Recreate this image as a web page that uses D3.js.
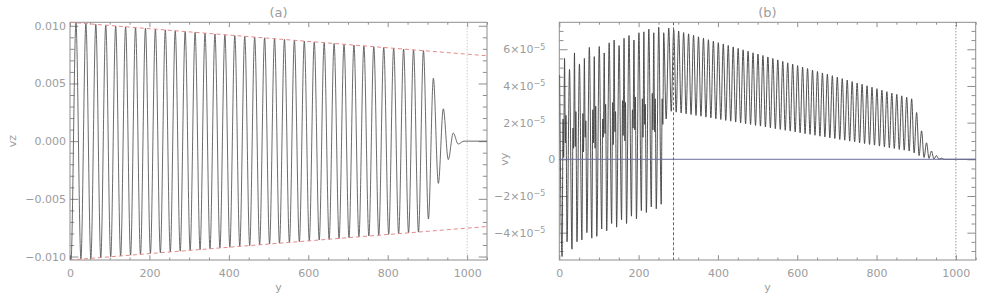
<!DOCTYPE html>
<meta charset="utf-8">
<style>
    body {
        margin: 0;
        background-color: #ffffff;
    }
    text {
        font-family: "DejaVu Sans", sans-serif;
        fill: #9c9c9c;
    }
    .frame {
        fill: none;
        stroke: #8e8e8e;
        stroke-width: 1;
    }
    .tick line {
        stroke: #8e8e8e;
    }
    .sig {
        fill: none;
    }
</style>

<body>
    <svg width="997" height="305"></svg>
    <script src="https://d3js.org/d3.v7.min.js"></script>
    <script>
        // ---- panel (a): vz, crests and troughs ----
        var vzCrestPos = [15, 40, 65, 90, 115, 140, 165, 190, 215, 240,
            265, 290, 315, 340, 365, 390, 415, 440, 465, 490,
            515, 540, 565, 590, 615, 640, 665, 690, 715, 740,
            765, 790, 815, 840, 865, 890, 915, 940, 965];
        var vzCrest = [0.01026, 0.01019, 0.01012, 0.01005, 0.00998, 0.00991, 0.00984, 0.00978, 0.00971, 0.00964,
            0.00957, 0.00950, 0.00943, 0.00936, 0.00929, 0.00922, 0.00915, 0.00908, 0.00902, 0.00895,
            0.00888, 0.00881, 0.00874, 0.00867, 0.00860, 0.00853, 0.00846, 0.00839, 0.00833, 0.00826,
            0.00819, 0.00812, 0.00805, 0.00798, 0.00791, 0.00784, 0.00545, 0.00280, 0.00070];
        var vzTroughPos = [2.5, 27.5, 52.5, 77.5, 102.5, 127.5, 152.5, 177.5, 202.5, 227.5,
            252.5, 277.5, 302.5, 327.5, 352.5, 377.5, 402.5, 427.5, 452.5, 477.5,
            502.5, 527.5, 552.5, 577.5, 602.5, 627.5, 652.5, 677.5, 702.5, 727.5,
            752.5, 777.5, 802.5, 827.5, 852.5, 877.5, 902.5, 927.5, 952.5, 977.5];
        var vzTrough = [-0.01029, -0.01022, -0.01016, -0.01009, -0.01002, -0.00995, -0.00988, -0.00981, -0.00974, -0.00967,
            -0.00960, -0.00953, -0.00946, -0.00940, -0.00933, -0.00926, -0.00919, -0.00912, -0.00905, -0.00898,
            -0.00891, -0.00884, -0.00877, -0.00871, -0.00864, -0.00857, -0.00850, -0.00843, -0.00836, -0.00829,
            -0.00822, -0.00815, -0.00808, -0.00801, -0.00795, -0.00788, -0.00675, -0.00366, -0.00160, -0.00025];
        var vzEndsPos = [0, 992, 1050];
        var vzEnds = [-0.0099, 0, 0];
        // red dashed envelope
        var envPos = [0, 1050];
        var envTop = [0.0103, 0.0074];
        var envBottom = [-0.0103, -0.0074];

        // ---- panel (b): vy, in units of 1e-5 ----
        // left part (behind the front)
        var vyLeftPos = [0.75, 7, 9.5, 11, 13.25, 15.3, 16.8, 19.5, 25.75, 32, 34.5, 36,
            38.25, 40.3, 41.8, 44.5, 50.75, 57, 59.5, 61, 63.25, 65.3, 66.8, 69.5,
            75.75, 82, 84.5, 86, 88.25, 90.3, 91.8, 94.5, 100.75, 107, 109.5, 111,
            113.25, 115.3, 116.8, 119.5, 125.75, 132, 134.5, 136, 138.25, 140.3, 141.8, 144.5,
            150.75, 157, 159.5, 161, 163.25, 165.3, 166.8, 169.5, 175.75, 182, 184.5, 186,
            188.25, 190.3, 191.8, 194.5, 200.75, 207, 209.5, 211, 213.25, 215.3, 216.8, 219.5,
            225.75, 232, 234.5, 236, 238.25, 240.3, 241.8, 244.5, 250.75, 257, 259.5, 261,
            263.25, 269.5];
        var vyLeft = [4.6, -5.3, 2.2, 0.1, 5.5, 0.9, 2.4, -4.5, 4.9, -4.9, 1.7, 0.6,
            5.8, 0.7, 2.6, -4.5, 5.2, -4.4, 2.5, 0.4, 5.5, 1.2, 2.1, -4.0,
            6.1, -4.3, 2.7, 0.9, 5.6, 0.6, 2.9, -4.2, 6.15, -3.8, 2.2, 1.2,
            5.8, 1.4, 3.0, -3.9, 6.35, -3.5, 3.1, 0.8, 6.5, 1.5, 2.6, -3.7,
            6.2, -3.3, 3.2, 1.3, 6.6, 1.0, 3.1, -3.5, 6.75, -3.1, 2.7, 1.7,
            6.5, 1.6, 3.4, -3.25, 6.9, -2.8, 3.3, 1.2, 6.95, 1.9, 3.0, -2.9,
            7.1, -2.6, 3.6, 1.6, 6.9, 1.5, 3.3, -2.7, 7.2, -2.45, 3.3, 1.9,
            6.9, 2.2];
        // right part (ahead of the front)
        var vyCrestPos = [276, 288.5, 301, 313.5, 326, 338.5, 351, 363.5, 376, 388.5,
            401, 413.5, 426, 438.5, 451, 463.5, 476, 488.5, 501, 513.5,
            526, 538.5, 551, 563.5, 576, 588.5, 601, 613.5, 626, 638.5,
            651, 663.5, 676, 688.5, 701, 713.5, 726, 738.5, 751, 763.5,
            776, 788.5, 801, 813.5, 826, 838.5, 851, 863.5, 876, 888.5];
        var vyCrest = [7.15, 7.07, 6.99, 6.91, 6.84, 6.76, 6.68, 6.60, 6.52, 6.44,
            6.36, 6.29, 6.21, 6.13, 6.05, 5.97, 5.89, 5.81, 5.74, 5.66,
            5.58, 5.50, 5.42, 5.34, 5.26, 5.19, 5.11, 5.03, 4.95, 4.87,
            4.79, 4.71, 4.64, 4.56, 4.48, 4.40, 4.32, 4.24, 4.16, 4.09,
            4.01, 3.93, 3.85, 3.77, 3.69, 3.61, 3.54, 3.46, 3.38, 3.30];
        var vyTroughPos = [282.25, 294.75, 307.25, 319.75, 332.25, 344.75, 357.25, 369.75, 382.25, 394.75,
            407.25, 419.75, 432.25, 444.75, 457.25, 469.75, 482.25, 494.75, 507.25, 519.75,
            532.25, 544.75, 557.25, 569.75, 582.25, 594.75, 607.25, 619.75, 632.25, 644.75,
            657.25, 669.75, 682.25, 694.75, 707.25, 719.75, 732.25, 744.75, 757.25, 769.75,
            782.25, 794.75, 807.25, 819.75, 832.25, 844.75, 857.25, 869.75, 882.25, 894.75];
        var vyTrough = [2.62, 2.57, 2.53, 2.48, 2.44, 2.39, 2.35, 2.30, 2.26, 2.21,
            2.17, 2.12, 2.08, 2.03, 1.99, 1.94, 1.90, 1.85, 1.81, 1.76,
            1.72, 1.67, 1.63, 1.58, 1.54, 1.49, 1.45, 1.40, 1.36, 1.31,
            1.26, 1.22, 1.17, 1.13, 1.08, 1.04, 0.99, 0.95, 0.90, 0.86,
            0.81, 0.77, 0.72, 0.68, 0.63, 0.59, 0.54, 0.50, 0.45, 0.35];
        // decaying tail
        var vyTailPos = [901, 907.25, 913.5, 919.75, 926, 932.25, 938.5, 944.75, 951, 957.25, 963.5, 970, 1050];
        var vyTail = [2.55, 0.2, 1.55, 0.1, 0.9, 0.05, 0.45, 0.02, 0.2, 0, 0.06, 0, 0];
        var frontPos = 288;

        // ---- ticks ----
        var xMajor = [0, 200, 400, 600, 800, 1000];
        var xMinor = [50, 100, 150, 250, 300, 350, 450, 500, 550, 650, 700, 750, 850, 900, 950, 1050];
        var vzMajor = [-0.010, -0.005, 0, 0.005, 0.010];
        var vzMinor = [-0.009, -0.008, -0.007, -0.006, -0.004, -0.003, -0.002, -0.001,
            0.001, 0.002, 0.003, 0.004, 0.006, 0.007, 0.008, 0.009];
        var vyMajor = [-4, -2, 0, 2, 4, 6];
        var vyMinor = [-5, -4.5, -3.5, -3, -2.5, -1.5, -1, -0.5, 0.5, 1, 1.5, 2.5, 3, 3.5, 4.5, 5, 5.5, 6.5, 7];

        var svg = d3.select("svg");
        var frameTop = 22.3,
            frameBottom = 260;

        function pairs(pos, val) {
            return pos.map(function(p, i) {
                return [p, val[i]];
            });
        }

        function addAxis(g, gen, tr, vals, size, fmt, pad) {
            var a = g.append("g")
                .attr("transform", tr)
                .call(gen.tickValues(vals).tickSize(size).tickPadding(pad || 0)
                    .tickFormat(fmt || function() { return ""; }));
            a.attr("font-size", null).attr("font-family", null).style("font-size", "11px");
            a.select(".domain").remove();
            return a;
        }

        function panel(p) {
            var x = d3.scaleLinear().domain([0, 1050]).range([p.left, p.right]);
            var y = d3.scaleLinear().domain(p.yDomain).range([frameBottom, frameTop]);
            var g = svg.append("g");

            g.append("clipPath").attr("id", "clip-" + p.name)
                .append("rect")
                .attr("x", p.left).attr("y", frameTop)
                .attr("width", p.right - p.left).attr("height", frameBottom - frameTop);

            // ticks point inward on all four sides
            addAxis(g, d3.axisBottom(x), "translate(0," + frameBottom + ")", xMajor, -4.8, d3.format("d"), 9);
            addAxis(g, d3.axisBottom(x), "translate(0," + frameBottom + ")", xMinor, -2.4);
            addAxis(g, d3.axisTop(x), "translate(0," + frameTop + ")", xMajor, -4.8);
            addAxis(g, d3.axisTop(x), "translate(0," + frameTop + ")", xMinor, -2.4);
            var yAxis = addAxis(g, d3.axisLeft(y), "translate(" + p.left + ",0)", p.yMajor, -8.3, p.yFormat, 4);
            addAxis(g, d3.axisLeft(y), "translate(" + p.left + ",0)", p.yMinor, -4.2);
            addAxis(g, d3.axisRight(y), "translate(" + p.right + ",0)", p.yMajor, -8.3);
            addAxis(g, d3.axisRight(y), "translate(" + p.right + ",0)", p.yMinor, -4.2);

            g.append("rect").attr("class", "frame")
                .attr("x", p.left).attr("y", frameTop)
                .attr("width", p.right - p.left).attr("height", frameBottom - frameTop);

            var cx = (p.left + p.right) / 2;
            g.append("text").attr("x", cx).attr("y", 16.5).attr("text-anchor", "middle")
                .style("font-size", "13px").text(p.title);
            g.append("text").attr("x", cx).attr("y", 291).attr("text-anchor", "middle")
                .style("font-size", "11px").text("y");
            g.append("text").attr("transform", "translate(" + p.yTitleX + "," + y(0) + ") rotate(-90)")
                .attr("text-anchor", "middle").attr("dy", "0.35em")
                .style("font-size", "11px").text(p.yTitle);

            var line = d3.line()
                .x(function(d) { return x(d[0]); })
                .y(function(d) { return y(d[1]); })
                .curve(d3.curveMonotoneX);

            var plot = g.append("g").attr("clip-path", "url(#clip-" + p.name + ")");
            return { x: x, y: y, plot: plot, line: line, yAxis: yAxis };
        }

        // ---------------- panel (a) ----------------
        var a = panel({
            name: "a", title: "(a)", yTitle: "vz", yTitleX: 12,
            left: 70, right: 487,
            yDomain: [-0.0103, 0.0103],
            yMajor: vzMajor, yMinor: vzMinor,
            yFormat: d3.format(".3f")
        });

        a.plot.append("line")
            .attr("x1", a.x(1000)).attr("x2", a.x(1000))
            .attr("y1", frameTop).attr("y2", frameBottom)
            .attr("stroke", "#b4b4b4").attr("stroke-dasharray", "1,2");

        var vzData = pairs(vzCrestPos, vzCrest)
            .concat(pairs(vzTroughPos, vzTrough))
            .concat(pairs(vzEndsPos, vzEnds))
            .sort(function(p, q) { return p[0] - q[0]; });

        a.plot.append("path").attr("class", "sig").attr("d", a.line(vzData))
            .attr("stroke", "#505050").attr("stroke-width", 0.85);

        [envTop, envBottom].forEach(function(env) {
            a.plot.append("path")
                .attr("d", a.line.curve(d3.curveLinear)(pairs(envPos, env)))
                .attr("fill", "none").attr("stroke", "#e58a8a").attr("stroke-width", 1)
                .attr("stroke-dasharray", "4,3");
        });

        // ---------------- panel (b) ----------------
        var b = panel({
            name: "b", title: "(b)", yTitle: "vy", yTitleX: 504,
            left: 559.3, right: 975.7,
            yDomain: [-5.49, 7.47],
            yMajor: vyMajor, yMinor: vyMinor,
            yFormat: function(d) { return d; }
        });

        var vyData = pairs(vyLeftPos, vyLeft)
            .concat(pairs(vyCrestPos, vyCrest))
            .concat(pairs(vyTroughPos, vyTrough))
            .concat(pairs(vyTailPos, vyTail))
            .sort(function(p, q) { return p[0] - q[0]; });

        b.plot.append("path").attr("class", "sig").attr("d", b.line(vyData))
            .attr("stroke", "#404040").attr("stroke-width", 0.9);

        b.plot.append("line")
            .attr("x1", b.x(0) - 1).attr("x2", b.x(1050) + 1)
            .attr("y1", b.y(0)).attr("y2", b.y(0))
            .attr("stroke", "#6e6e9e").attr("stroke-width", 1);

        b.plot.append("line")
            .attr("x1", b.x(frontPos)).attr("x2", b.x(frontPos))
            .attr("y1", frameTop).attr("y2", frameBottom)
            .attr("stroke", "#666").attr("stroke-dasharray", "3,2");

        b.plot.append("line")
            .attr("x1", b.x(1000)).attr("x2", b.x(1000))
            .attr("y1", frameTop).attr("y2", frameBottom)
            .attr("stroke", "#666").attr("stroke-dasharray", "1,2");

        // vy tick labels as n×10^-5
        b.yAxis.selectAll(".tick text").each(function(d) {
            if (d === 0) return;
            var t = d3.select(this).text(null).attr("x", -14);
            t.append("tspan").text((d < 0 ? "\u2212" + (-d) : d) + "\u00d710");
            t.append("tspan").attr("dy", "-0.45em").style("font-size", "8px").text("\u22125");
        });
    </script>
</body>
